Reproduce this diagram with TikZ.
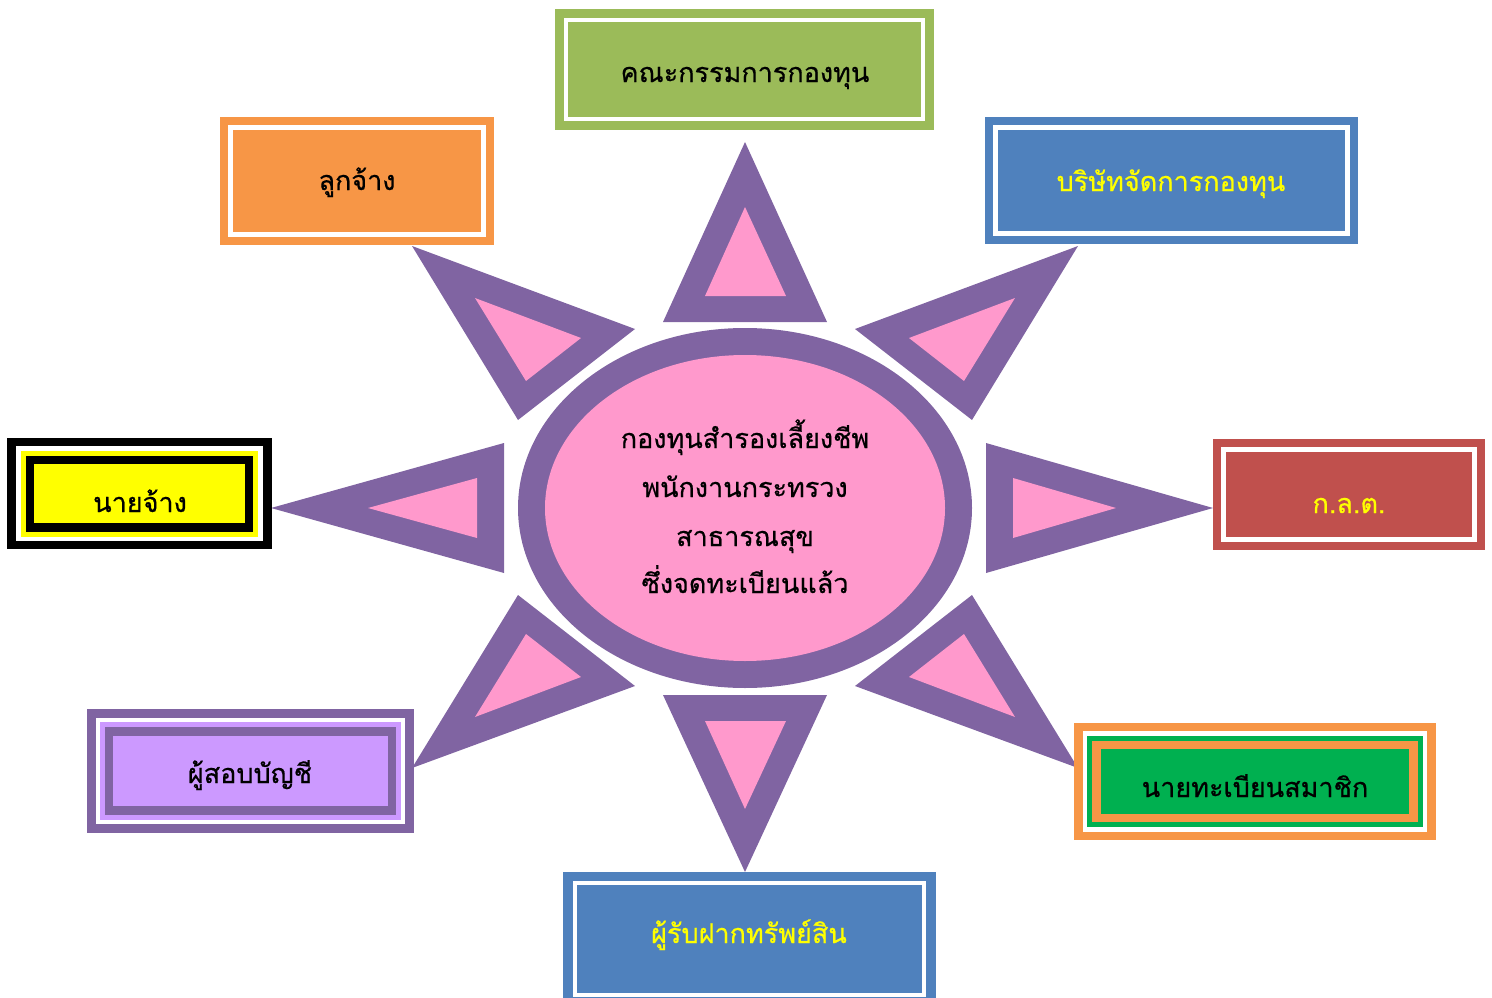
\documentclass[tikz,border=0pt]{standalone}
\usepackage{fontspec}
\newfontfamily\thaifont[Script=Thai,FakeBold=0.6]{Loma}
\definecolor{cpurple}{HTML}{8064A2}
\definecolor{cpink}{HTML}{FF99CC}
\definecolor{cgreen}{HTML}{9BBB59}
\definecolor{corange}{HTML}{F79646}
\definecolor{cblue}{HTML}{4F81BD}
\definecolor{cred}{HTML}{C0504D}
\definecolor{clilac}{HTML}{CC99FF}
\definecolor{cgbox}{HTML}{00B050}
\definecolor{cyellow}{HTML}{FFFF00}
\tikzset{
  lbl/.style={font=\thaifont\fontsize{27}{31}\selectfont, anchor=base, inner sep=0pt, text=black},
  ylbl/.style={lbl, text=cyellow},
  whiteline/.style={draw=white, line width=4.5pt},
}
\begin{document}
\begin{tikzpicture}[x=1pt,y=-1pt]
\useasboundingbox (0,0) rectangle (1492,998);
\begin{scope}
\clip (0,0) rectangle (1492,998);
% central ellipse
\fill[cpurple] (745,508) ellipse [x radius=227, y radius=180];
\fill[cpink] (745,508) ellipse [x radius=200, y radius=153];
% triangles
\fill[cpurple] (745,142) -- (827,322) -- (663,322) -- cycle;
\fill[cpink] (745,207) -- (786,296) -- (705,296) -- cycle;
\fill[cpurple] (745,872) -- (827,695) -- (663,695) -- cycle;
\fill[cpink] (745,809) -- (786,721) -- (705,721) -- cycle;
\fill[cpurple] (271,508) -- (504,443) -- (504,573) -- cycle;
\fill[cpink] (368,508) -- (477,478) -- (477,538) -- cycle;
\fill[cpurple] (1213,508) -- (986,443) -- (986,573) -- cycle;
\fill[cpink] (1116,508) -- (1013,478) -- (1013,538) -- cycle;
\fill[cpurple] (412,246) -- (635,329) -- (518,420) -- cycle;
\fill[cpink] (475,298) -- (581,338) -- (526,381) -- cycle;
\fill[cpurple] (1078,246) -- (855,329) -- (972,420) -- cycle;
\fill[cpink] (1015,298) -- (909,338) -- (964,381) -- cycle;
\fill[cpurple] (412,768) -- (635,686) -- (518,595) -- cycle;
\fill[cpink] (475,717) -- (581,677) -- (526,634) -- cycle;
\fill[cpurple] (1078,768) -- (855,686) -- (972,595) -- cycle;
\fill[cpink] (1015,717) -- (909,677) -- (964,634) -- cycle;
% green top box
\fill[cgreen] (555,9) rectangle (934,130);
\draw[whiteline] (566,20) rectangle (923,119);
% orange box
\fill[corange] (220,117) rectangle (494,245);
\draw[whiteline] (230.5,127.5) rectangle (483.5,234.5);
% blue top-right
\fill[cblue] (985,117) rectangle (1358,244);
\draw[whiteline] (995.5,127.5) rectangle (1347.5,233.5);
% red
\fill[cred] (1213,439) rectangle (1485,550);
\draw[whiteline] (1223.5,449.5) rectangle (1474.5,539.5);
% blue bottom
\fill[cblue] (563,872) rectangle (936,1006);
\draw[whiteline] (575,883) rectangle (924,995);
% black/yellow box
\fill[black] (7,438) rectangle (272,549);
\fill[white] (16,446) rectangle (263,541);
\fill[cyellow] (21,451) rectangle (258,537);
\fill[black] (26,456) rectangle (253,532);
\fill[cyellow] (34,464) rectangle (245,523);
% purple/lilac box
\fill[cpurple] (87,709) rectangle (414,833);
\fill[white] (96,718) rectangle (405,824);
\fill[clilac] (100,722) rectangle (401,820);
\fill[cpurple] (105,727) rectangle (396,815);
\fill[clilac] (113,736) rectangle (388,806);
% orange/green box
\fill[corange] (1074,723) rectangle (1436,840);
\fill[white] (1083,731) rectangle (1427,832);
\fill[cgbox] (1087,736) rectangle (1423,827);
\fill[corange] (1092,741) rectangle (1418,822);
\fill[cgbox] (1101,749) rectangle (1409,814);
\end{scope}
% labels
\node[lbl] (ctr1) at (745,448) {กองทุนสำรองเลี้ยงชีพ};
\node[lbl] (ctr2) at (745,497) {พนักงานกระทรวง};
\node[lbl] (ctr3) at (745,546) {สาธารณสุข};
\node[lbl] (ctr4) at (745,593) {ซึ่งจดทะเบียนแล้ว};
\node[lbl] (board) at (745,82) {คณะกรรมการกองทุน};
\node[lbl] (employee) at (357,190) {ลูกจ้าง};
\node[ylbl] (company) at (1171,191) {บริษัทจัดการกองทุน};
\node[lbl] (employer) at (140,512) {นายจ้าง};
\node[ylbl] (sec) at (1349,513) {ก.ล.ต.};
\node[lbl] (auditor) at (250,783) {ผู้สอบบัญชี};
\node[lbl] (registrar) at (1255,797) {นายทะเบียนสมาชิก};
\node[ylbl] (custodian) at (749,943) {ผู้รับฝากทรัพย์สิน};
\end{tikzpicture}
\end{document}
